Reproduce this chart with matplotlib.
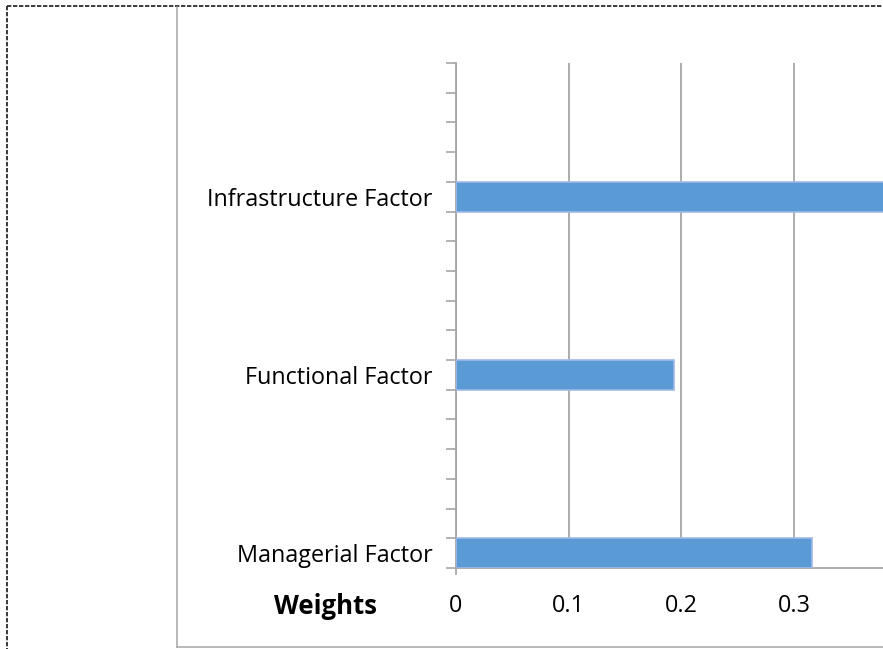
import matplotlib.pyplot as plt
from matplotlib.lines import Line2D

# Factor weights
categories = ['Managerial Factor', 'Functional Factor', 'Infrastructure Factor']
weights = [0.316, 0.193, 0.491]
x_ticks = [0, 0.1, 0.2, 0.3]
x_tick_labels = ['0', '0.1', '0.2', '0.3']

W, H = 883, 649
plt.rcParams['font.family'] = ['Open Sans', 'DejaVu Sans']

fig = plt.figure(figsize=(W / 100, H / 100), dpi=100)


def px(x, y):
    return x / W, 1 - y / H


# outer dashed frame and inner chart frame
for (x0, y0), (x1, y1), style, col, lw in [
    ((7, 6), (7, H), (0, (2.6, 1.0)), '#1a1a1a', 1.2),
    ((7, 6), (W, 6), (0, (2.6, 1.0)), '#1a1a1a', 1.2),
    ((177, 7), (177, 647), '-', '#a6a6a6', 1.1),
    ((177, 647), (W, 647), '-', '#a6a6a6', 1.1),
]:
    a, b = px(x0, y0)
    c, d = px(x1, y1)
    fig.add_artist(Line2D([a, c], [b, d], linestyle=style, color=col, lw=lw))

left, top, bottom = 456, 63, 568
ax = fig.add_axes([left / W, 1 - bottom / H, (W - left) / W, (bottom - top) / H])

n_slots = 17
slots = [0, 6, 12]
ax.barh([s + 0.5 for s in slots], weights, height=1.0, color='#5b9bd5',
        edgecolor='#9fb8e8', linewidth=1.2, zorder=3)

ax.set_xlim(0, (W - left) / 1127)
ax.set_ylim(0, n_slots)

ax.set_xticks(x_ticks)
ax.set_xticklabels(x_tick_labels, fontsize=16.8)
ax.tick_params(axis='x', length=0, pad=19)
ax.grid(axis='x', color='#a6a6a6', lw=1.3, zorder=0)

ax.set_yticks(range(n_slots + 1))
ax.set_yticklabels([])
ax.tick_params(axis='y', which='major', length=7, color='#a6a6a6', width=1.2)
ax.set_yticks([s + 0.5 for s in slots], minor=True)
ax.set_yticklabels(categories, minor=True, fontsize=16.8)
ax.tick_params(axis='y', which='minor', length=0, pad=17)

for side in ['top', 'right']:
    ax.spines[side].set_visible(False)
for side in ['left', 'bottom']:
    ax.spines[side].set_color('#a6a6a6')
    ax.spines[side].set_linewidth(1.3)

# axis line runs a little past the baseline
a, b = px(left, bottom)
c, d = px(left, bottom + 6)
fig.add_artist(Line2D([a, c], [b, d], color='#a6a6a6', lw=1.3))

fig.text(*px(326, 607), 'Weights', fontsize=18.5, fontweight='bold',
         ha='center', va='center')

fig.savefig('out.png', dpi=100)
